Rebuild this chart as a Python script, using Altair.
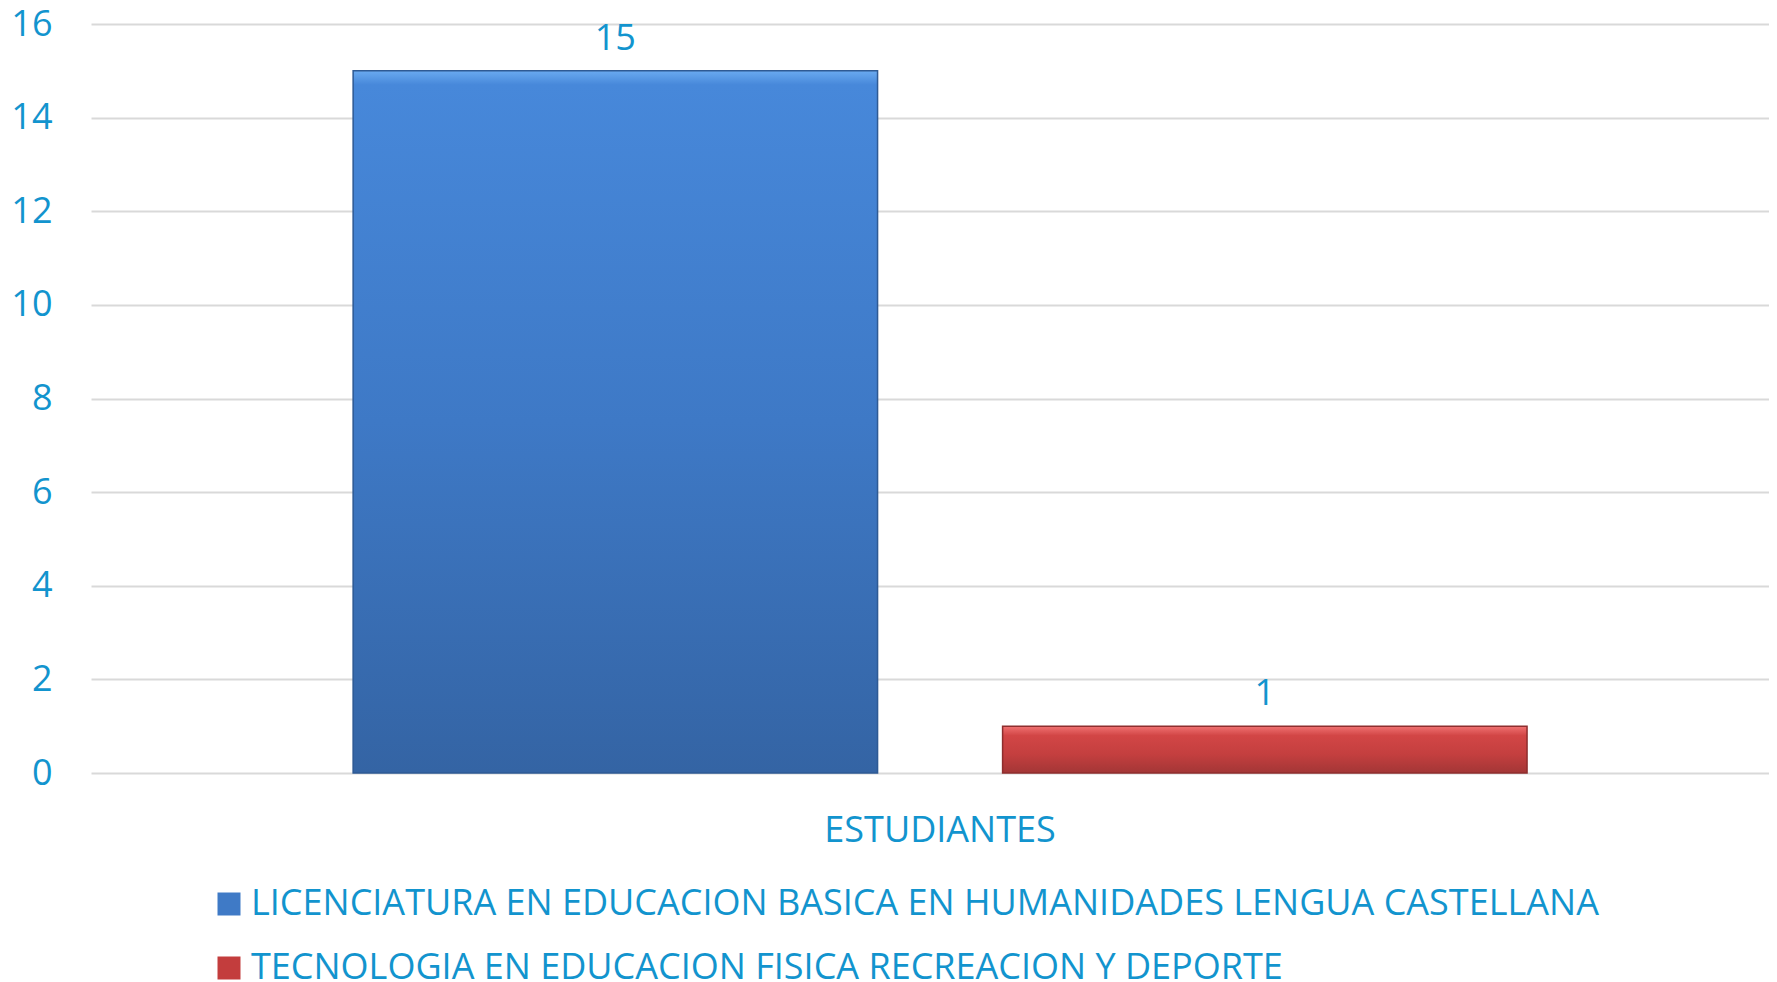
import altair as alt
import pandas as pd

categories = ["ESTUDIANTES"]
series = [
    "LICENCIATURA EN EDUCACION BASICA EN HUMANIDADES LENGUA CASTELLANA",
    "TECNOLOGIA EN EDUCACION FISICA RECREACION Y DEPORTE",
]
values = [15, 1]
colors = ["#3F7AC6", "#C33D3D"]
y_ticks = [0, 2, 4, 6, 8, 10, 12, 14, 16]

df = pd.DataFrame({"cat": [categories[0]] * len(series), "serie": series, "val": values})

FONT = "Open Sans"
TXT = "#1294CE"
W, H = 1678, 749

xenc = alt.X(
    "cat:N",
    scale=alt.Scale(paddingInner=0, paddingOuter=0.2147, align=0.52),
    axis=alt.Axis(title=None, labelAngle=0, ticks=False, domain=False, labelPadding=40,
                  labelFontSize=36, labelColor=TXT, labelFont=FONT, grid=False,
                  labelLimit=2000),
)
xoff = alt.XOffset("serie:N", sort=series, scale=alt.Scale(paddingInner=0.1925, paddingOuter=0))
yenc = alt.Y(
    "val:Q",
    scale=alt.Scale(domain=[0, 16], nice=False),
    axis=alt.Axis(values=y_ticks, title=None, ticks=False, domain=False, labelPadding=39,
                  labelFontSize=36, labelColor=TXT, labelFont=FONT,
                  gridColor="#D9D9D9", gridWidth=2),
)

base = alt.Chart(df).mark_bar().encode(
    x=xenc, xOffset=xoff, y=yenc,
    color=alt.Color(
        "serie:N", sort=series,
        scale=alt.Scale(domain=series, range=colors),
        legend=alt.Legend(orient="none", legendX=120, legendY=862, title=None,
                          symbolType="square", symbolSize=529, labelFontSize=36,
                          labelColor=TXT, labelFont=FONT, rowPadding=28, labelOffset=4,
                          padding=0, labelLimit=3000, direction="vertical",
                          symbolStrokeWidth=0),
    ),
)

grad_blue = alt.Gradient(
    gradient="linear", x1=0, x2=0, y1=0, y2=1,
    stops=[alt.GradientStop(color="#6AAAF0", offset=0),
           alt.GradientStop(color="#4788DA", offset=0.02),
           alt.GradientStop(color="#3E79C6", offset=0.5),
           alt.GradientStop(color="#3464A4", offset=1)],
)
grad_red = alt.Gradient(
    gradient="linear", x1=0, x2=0, y1=0, y2=1,
    stops=[alt.GradientStop(color="#F07272", offset=0),
           alt.GradientStop(color="#D24646", offset=0.2),
           alt.GradientStop(color="#C43F3F", offset=0.6),
           alt.GradientStop(color="#A33636", offset=1)],
)

blue = alt.Chart(df).transform_filter(alt.datum.serie == series[0]).mark_bar(
    color=grad_blue, stroke="#2E5A94", strokeWidth=1.5
).encode(x=xenc, xOffset=xoff, y=yenc)

red = alt.Chart(df).transform_filter(alt.datum.serie == series[1]).mark_bar(
    color=grad_red, stroke="#8E2E2E", strokeWidth=1.5
).encode(x=xenc, xOffset=xoff, y=yenc)

labels = alt.Chart(df).mark_text(
    baseline="alphabetic", dy=-21, fontSize=36, font=FONT, color=TXT
).encode(x=xenc, xOffset=xoff, y=yenc, text=alt.Text("val:Q"))

chart = alt.layer(base, blue, red, labels).properties(
    width=W, height=H,
    padding={"left": 83, "top": 16, "right": 0, "bottom": 209},
    autosize=alt.AutoSizeParams(type="none"),
).configure_view(stroke=None)

chart.save("out.html", embed_options={"renderer": "svg", "actions": False})
